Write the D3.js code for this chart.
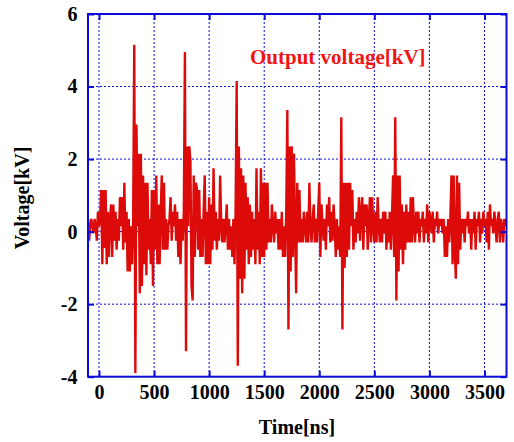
<!DOCTYPE html>
<html>
<head>
<meta charset="utf-8">
<script src="https://cdn.jsdelivr.net/npm/d3@7"></script>
<style>
  body { margin: 0; background: #fff; }
  text { font-family: "Liberation Serif", "Times New Roman", serif; font-weight: bold; }
</style>
</head>
<body>
<div id="chart"></div>
<script>
// sampled output voltage, one value every 10 ns starting at -100 ns
const tStart = -100;
const tStep = 10;
const volts = [
  0.35, -0.25, 0.15, 0.35, 0.15, -0.05, 0.35, 0.15, -0.25, 0.55,   // -100
  0.15, 0.35, 1.15, -0.9, 1.15, -0.45, 1.15, -0.9, 0.55, -0.7,     // 0
  0.35, 0.75, -0.7, 0.75, -0.25, 0.55, -0.5, 0.35, -0.25, 0.95,    // 100
  0.15, 0.95, -0.5, 1.35, -0.3, 0.55, -1.1, 0.35, -1.1, 0.15,      // 200
  -0.9, 0.35, 5.15, -3.9, 2.95, 0.15, 2.15, -1.7, 2.15, -1.5,      // 300
  1.55, -0.9, 1.35, -1.2, 1.35, -0.5, 0.35, -0.9, 1.15, -1.5,      // 400
  1.15, -0.5, 1.55, -0.9, 0.75, -0.9, 0.55, 1.55, -0.5, 1.35,      // 500
  -0.5, 0.35, -0.5, 0.15, 0.35, 0.95, -0.25, 0.55, 0.15, 0.75,     // 600
  -0.25, 0.55, -0.7, 0.35, -0.9, 0.35, -0.25, 0.55, 4.95, -3.3,    // 700
  2.35, 0.15, 2.35, 1.95, -1.5, -1.9, 1.55, -0.7, 1.35, 1.15,      // 800
  -0.5, 1.15, -0.7, 0.35, -0.7, 0.55, 1.55, -0.9, 0.55, -0.9,      // 900
  0.95, -0.9, 0.75, -0.5, 1.75, -0.25, 0.55, -0.5, 0.35, -0.25,    // 1000
  1.55, 0.15, -0.3, 0.35, -0.3, 0.15, 0.75, -0.5, 0.35, -0.5,      // 1100
  0.15, -0.7, 0.35, -0.9, 0.55, 4.15, -3.7, 2.35, -1.3, 1.75,      // 1200
  -1.7, 1.55, -1.3, 1.35, -0.5, 0.95, -0.9, 0.75, -0.7, 0.55,      // 1300
  -0.5, 0.35, -0.9, 1.75, -0.5, 0.55, -0.9, 1.75, -0.7, 1.35,      // 1400
  -0.7, 1.35, -0.5, 1.35, -0.3, 0.35, -0.3, 0.75, 0.15, -0.3,      // 1500
  0.55, -0.05, 0.35, -0.5, 0.35, -0.5, 0.55, -0.7, 0.15, -0.7,     // 1600
  0.55, 3.35, -2.7, 2.35, -1.1, 2.35, -0.7, 2.15, 0.15, -1.7,      // 1700
  1.35, -0.3, 1.15, -0.3, 0.35, -0.3, 0.55, 0.15, -0.3, 0.55,      // 1800
  -0.3, 1.35, 0.15, -0.3, 0.35, 0.75, -0.3, 0.35, -0.3, 0.55,      // 1900
  1.35, -0.7, 0.75, 0.15, -0.25, 0.35, -0.5, 0.75, 0.15, 0.95,     // 2000
  -0.3, 0.55, -0.25, 0.75, 0.15, -0.7, 0.35, -0.5, 0.15, -0.7,     // 2100
  3.15, -2.7, 1.35, -1.0, 1.35, -0.7, 1.35, -0.5, 1.35, 0.15,      // 2200
  1.15, -0.5, 0.35, -0.3, 0.55, -0.05, 0.95, -0.25, 0.55, 0.95,    // 2300
  -0.5, 0.75, 0.15, 0.75, -0.5, 0.35, 0.95, -0.3, 0.95, 0.15,      // 2400
  -0.3, 0.55, -0.3, 0.95, 0.15, -0.3, 0.35, -0.3, 0.55, -0.05,     // 2500
  0.55, -0.5, 0.35, -0.3, 0.55, -0.5, 0.35, 1.55, -0.7, 3.15,      // 2600
  -1.9, 1.55, -1.1, 1.55, -0.5, 0.75, -0.9, 0.55, -0.5, 0.75,      // 2700
  -0.3, 0.55, -0.3, 0.95, -0.3, 0.95, 0.15, -0.3, 0.55, -0.05,     // 2800
  0.55, -0.3, 0.35, 0.15, 0.55, -0.3, 0.35, -0.05, 0.75, -0.3,     // 2900
  0.55, 0.35, -0.05, 0.55, -0.3, 0.35, 0.15, 0.55, -0.05, 0.35,    // 3000
  0.15, 0.35, -0.05, 0.35, -0.7, 0.15, -0.7, 0.35, -0.3, 0.35,     // 3100
  1.55, -0.9, 1.55, -0.5, -1.3, 1.55, -0.9, 1.35, -0.5, 0.35,      // 3200
  -0.05, 0.35, -0.3, 0.35, 0.15, 0.55, -0.05, 0.35, -0.5, 0.35,    // 3300
  -0.05, 0.55, -0.5, 0.35, 0.15, 0.55, -0.3, 0.35, -0.05, 0.55,    // 3400
  0.15, 0.35, -0.3, 0.55, -0.5, 0.75, 0.15, 0.35, -0.05, 0.55,     // 3500
  0.15, -0.3, 0.35, 0.55, -0.3, 0.35, 0.15, -0.3, 0.35, 0.15,      // 3600
  0.35                                                             // 3700
];

const xTicks = [0, 500, 1000, 1500, 2000, 2500, 3000, 3500];
const yTicks = [-4, -2, 0, 2, 4, 6];
const xDomain = [-100, 3700];
const yDomain = [-4, 6];

const blue = "#0a0adc";
const red = "#dd0a0a";

const margin = { top: 14, right: 7.5, bottom: 65.3, left: 88 },
      width = 514 - margin.left - margin.right,
      height = 442 - margin.top - margin.bottom;

const svgRoot = d3.select("#chart")
  .append("svg")
  .attr("width", 514)
  .attr("height", 442);

const svg = svgRoot.append("g")
  .attr("transform", `translate(${margin.left},${margin.top})`);

const x = d3.scaleLinear().domain(xDomain).range([0, width]);
const y = d3.scaleLinear().domain(yDomain).range([height, 0]);

// dotted grid
svg.append("g")
  .selectAll("line")
  .data(xTicks)
  .enter()
  .append("line")
  .attr("x1", d => x(d))
  .attr("x2", d => x(d))
  .attr("y1", 0)
  .attr("y2", height)
  .attr("stroke", blue)
  .attr("stroke-width", 1)
  .attr("stroke-dasharray", "2,2");

svg.append("g")
  .selectAll("line")
  .data(yTicks.filter(d => d > yDomain[0] && d < yDomain[1]))
  .enter()
  .append("line")
  .attr("x1", 0)
  .attr("x2", width)
  .attr("y1", d => y(d))
  .attr("y2", d => y(d))
  .attr("stroke", blue)
  .attr("stroke-width", 1)
  .attr("stroke-dasharray", "2,2");

// the signal
svgRoot.append("defs").append("clipPath")
  .attr("id", "plotclip")
  .append("rect")
  .attr("width", width)
  .attr("height", height);

const line = d3.line()
  .x((d, i) => x(tStart + i * tStep))
  .y(d => y(d));

svg.append("path")
  .datum(volts)
  .attr("clip-path", "url(#plotclip)")
  .attr("fill", "none")
  .attr("stroke", red)
  .attr("stroke-width", 2.4)
  .attr("stroke-linejoin", "miter")
  .attr("d", line);

// frame
svg.append("rect")
  .attr("width", width)
  .attr("height", height)
  .attr("fill", "none")
  .attr("stroke", blue)
  .attr("stroke-width", 2);

// axes, ticks pointing inward
const fmt = d => String(d);

const bottomAxis = svg.append("g")
  .attr("transform", `translate(0,${height})`)
  .call(d3.axisBottom(x).tickValues(xTicks).tickFormat(fmt).tickSizeInner(-6).tickSizeOuter(0).tickPadding(8.6));

const topAxis = svg.append("g")
  .call(d3.axisTop(x).tickValues(xTicks).tickSizeInner(-6).tickSizeOuter(0).tickFormat(""));

const leftAxis = svg.append("g")
  .call(d3.axisLeft(y).tickValues(yTicks).tickFormat(fmt).tickSizeInner(-6).tickSizeOuter(0).tickPadding(10.5));

const rightAxis = svg.append("g")
  .attr("transform", `translate(${width},0)`)
  .call(d3.axisRight(y).tickValues(yTicks).tickSizeInner(-6).tickSizeOuter(0).tickFormat(""));

[bottomAxis, topAxis, leftAxis, rightAxis].forEach(a => {
  a.select(".domain").remove();
  a.selectAll(".tick line").attr("stroke", blue).attr("stroke-width", 2);
  a.selectAll(".tick text")
    .attr("fill", "#000")
    .style("font-size", "20px")
    .style("font-family", "'Liberation Serif', 'Times New Roman', serif")
    .style("font-weight", "bold");
});

// axis titles
svgRoot.append("text")
  .attr("text-anchor", "middle")
  .attr("x", 297)
  .attr("y", 433.5)
  .style("font-size", "20px")
  .text("Time[ns]");

svgRoot.append("text")
  .attr("text-anchor", "middle")
  .attr("transform", "translate(29,198) rotate(-90)")
  .style("font-size", "20px")
  .text("Voltage[kV]");

// legend label
svgRoot.append("text")
  .attr("x", 250)
  .attr("y", 64)
  .attr("fill", "#f01414")
  .style("font-size", "21px")
  .text("Output voltage[kV]");
</script>
</body>
</html>
